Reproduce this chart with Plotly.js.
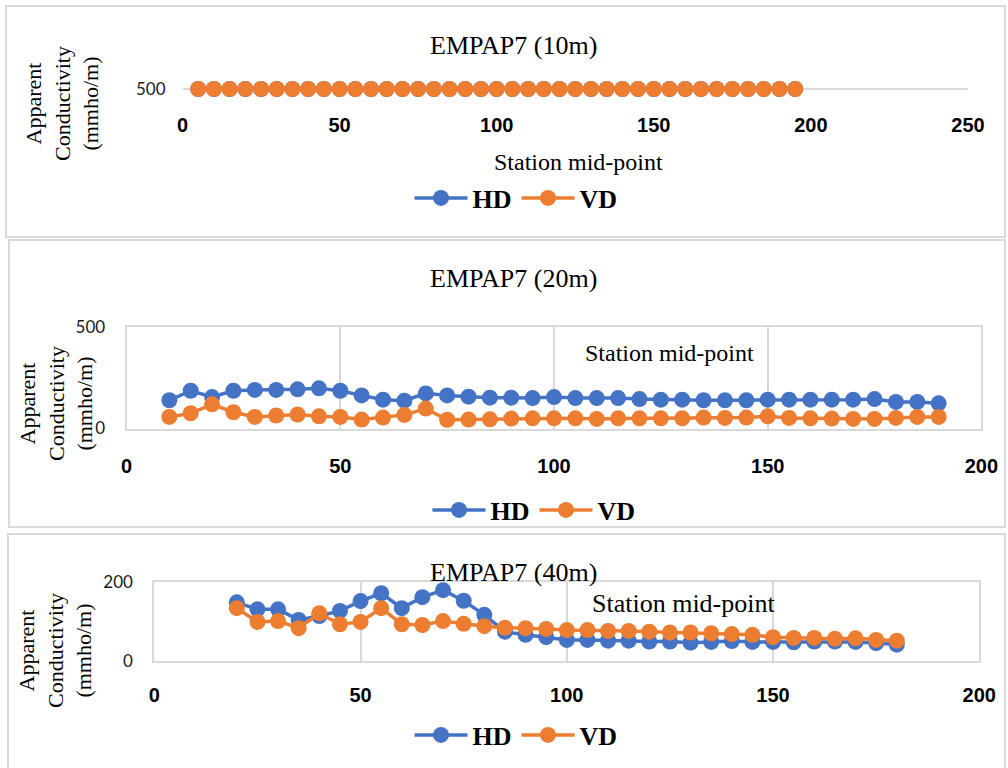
<!DOCTYPE html>
<html>
<head>
<meta charset="utf-8">
<script src="https://cdn.plot.ly/plotly-3.0.1.min.js"></script>
<style>
  html, body { margin: 0; padding: 0; background: #ffffff; }
  #chart { width: 1008px; height: 768px; }
</style>
</head>
<body>
<div id="chart"></div>
<script>
// ---- EMPAP7 apparent conductivity, three coil separations ----

// 10 m spacing
const station10 = [5, 10, 15, 20, 25, 30, 35, 40, 45, 50, 55, 60, 65, 70, 75, 80, 85, 90, 95, 100,
  105, 110, 115, 120, 125, 130, 135, 140, 145, 150, 155, 160, 165, 170, 175, 180, 185, 190, 195];
const hd10 = [500, 500, 500, 500, 500, 500, 500, 500, 500, 500, 500, 500, 500, 500, 500, 500, 500, 500, 500, 500,
  500, 500, 500, 500, 500, 500, 500, 500, 500, 500, 500, 500, 500, 500, 500, 500, 500, 500, 500];
const vd10 = [500, 500, 500, 500, 500, 500, 500, 500, 500, 500, 500, 500, 500, 500, 500, 500, 500, 500, 500, 500,
  500, 500, 500, 500, 500, 500, 500, 500, 500, 500, 500, 500, 500, 500, 500, 500, 500, 500, 500];

// 20 m spacing
const station20 = [10, 15, 20, 25, 30, 35, 40, 45, 50, 55, 60, 65, 70, 75, 80, 85, 90, 95, 100,
  105, 110, 115, 120, 125, 130, 135, 140, 145, 150, 155, 160, 165, 170, 175, 180, 185, 190];
const hd20 = [139, 186, 155, 186, 190, 190, 193, 198, 186, 163, 142, 137, 173, 163, 157, 152, 152, 150, 155,
  150, 150, 150, 145, 142, 142, 139, 139, 139, 142, 142, 142, 142, 142, 145, 131, 131, 124];
const vd20 = [57, 75, 119, 80, 57, 64, 69, 60, 57, 44, 54, 67, 98, 43, 44, 45, 49, 50, 50,
  50, 47, 50, 50, 50, 50, 54, 52, 54, 60, 52, 50, 49, 47, 47, 52, 57, 57];

// 40 m spacing
const station40 = [20, 25, 30, 35, 40, 45, 50, 55, 60, 65, 70, 75, 80, 85, 90, 95, 100,
  105, 110, 115, 120, 125, 130, 135, 140, 145, 150, 155, 160, 165, 170, 175, 180];
const hd40 = [149, 131, 131, 104, 114, 127, 152, 172, 134, 162, 180, 153, 117, 74, 66, 60, 53,
  53, 51, 51, 49, 49, 46, 48, 50, 48, 48, 47, 49, 49, 48, 45, 41];
const vd40 = [134, 99, 101, 83, 121, 93, 99, 134, 93, 91, 101, 94, 88, 84, 83, 81, 78,
  78, 76, 76, 74, 72, 72, 70, 68, 66, 60, 58, 58, 56, 57, 53, 51];

// axis ticks
const xTicks250 = [0, 50, 100, 150, 200, 250];
const xTicks200 = [0, 50, 100, 150, 200];
const yTicks10 = [500];
const yTicks20 = [0, 500];
const yTicks40 = [0, 200];

const panelTitles = ['EMPAP7 (10m)', 'EMPAP7 (20m)', 'EMPAP7 (40m)'];
const seriesNames = ['HD', 'VD'];
const xTitle = 'Station mid-point';
const yTitle = 'Apparent<br>Conductivity<br>(mmho/m)';

// ---- page geometry (pixels -> paper fractions) ----
const W = 1008, H = 768;
const px = v => v / W;
const py = v => 1 - v / H;

const BLUE = '#4472C4';
const ORANGE = '#ED7D31';
const GRID = '#D9D9D9';
const SERIF = 'Liberation Serif, Times New Roman, serif';
const SANS = 'Lato, Carlito, Calibri, sans-serif';
const SANS_BOLD = 'Liberation Sans, Arial, sans-serif';

function series(x, y, name, color, axisIdx, legendId) {
  return {
    type: 'scatter', mode: 'lines+markers',
    x: x, y: y, name: name,
    xaxis: axisIdx === 1 ? 'x' : 'x' + axisIdx,
    yaxis: axisIdx === 1 ? 'y' : 'y' + axisIdx,
    legend: legendId,
    line: { color: color, width: 3.5 },
    marker: { color: color, size: 16, symbol: 'circle' },
    cliponaxis: false,
    hoverinfo: 'x+y+name'
  };
}

const traces = [
  series(station10, hd10, seriesNames[0], BLUE, 1, 'legend'),
  series(station10, vd10, seriesNames[1], ORANGE, 1, 'legend'),
  series(station20, hd20, seriesNames[0], BLUE, 2, 'legend2'),
  series(station20, vd20, seriesNames[1], ORANGE, 2, 'legend2'),
  series(station40, hd40, seriesNames[0], BLUE, 3, 'legend3'),
  series(station40, vd40, seriesNames[1], ORANGE, 3, 'legend3')
];

const xTickFont = { family: SANS_BOLD, size: 20, color: '#000000', weight: 'bold' };
const yTickFont = { family: SANS, size: 17, color: '#1a1a1a' };

function xAxis(domain, rng, ticks, anchor, boxed, standoff) {
  return {
    domain: domain, range: rng, anchor: anchor,
    tickmode: 'array', tickvals: ticks,
    ticktext: ticks.map(t => '<b>' + t + '</b>'),
    ticks: '', showgrid: boxed, gridcolor: GRID, gridwidth: 1.5,
    zeroline: false,
    showline: boxed, mirror: boxed, linecolor: GRID, linewidth: 2,
    tickfont: xTickFont, ticklabelstandoff: standoff,
    fixedrange: true
  };
}
function yAxis(domain, rng, ticks, anchor, boxed, grid) {
  return {
    domain: domain, range: rng, anchor: anchor,
    tickmode: 'array', tickvals: ticks,
    ticks: '', showgrid: grid, gridcolor: GRID, gridwidth: 2,
    zeroline: false,
    showline: boxed, mirror: boxed, linecolor: GRID, linewidth: 2,
    tickfont: yTickFont, ticklabelstandoff: 16,
    fixedrange: true
  };
}

function legendAt(cx, cy) {
  return {
    orientation: 'h', x: px(cx), y: py(cy), xanchor: 'center', yanchor: 'middle',
    xref: 'paper', yref: 'paper',
    itemwidth: 53, bgcolor: 'rgba(0,0,0,0)', borderwidth: 0,
    font: { family: SERIF, size: 26, color: '#000000', weight: 'bold' },
    itemclick: false, itemdoubleclick: false
  };
}

function textNote(text, cx, cy, size, angle) {
  return {
    text: text, x: px(cx), y: py(cy), xref: 'paper', yref: 'paper',
    xanchor: 'center', yanchor: 'middle', showarrow: false,
    textangle: angle || 0,
    font: { family: SERIF, size: size, color: '#000000' }
  };
}

function panelBox(x0, y0, x1, y1) {
  return {
    type: 'rect', xref: 'paper', yref: 'paper',
    x0: px(x0), x1: px(x1), y0: py(y1), y1: py(y0),
    line: { color: GRID, width: 2 }, fillcolor: 'rgba(0,0,0,0)', layer: 'below'
  };
}

const layout = {
  width: W, height: H,
  margin: { l: 0, r: 0, t: 0, b: 0, pad: 0 },
  paper_bgcolor: '#ffffff', plot_bgcolor: 'rgba(0,0,0,0)',
  showlegend: true,
  hovermode: 'closest',

  // 10 m panel: a single 500 line
  xaxis: xAxis([px(182.5), px(968)], [0, 250], xTicks250, 'y', false, 17),
  yaxis: yAxis([py(93.5), py(84.5)], [499, 501], yTicks10, 'x', false, true),

  // 20 m panel
  xaxis2: xAxis([px(126.6), px(981.4)], [0, 200], xTicks200, 'y2', true, 18),
  yaxis2: yAxis([py(428.5), py(327)], [0, 500], yTicks20, 'x2', true, false),

  // 40 m panel
  xaxis3: xAxis([px(154.3), px(979.3)], [0, 200], xTicks200, 'y3', true, 15),
  yaxis3: yAxis([py(660.7), py(582.3)], [0, 200], yTicks40, 'x3', true, false),

  legend: legendAt(516, 198),
  legend2: legendAt(534, 510),
  legend3: legendAt(516, 735),

  shapes: [
    panelBox(6, 6, 1005, 237),
    panelBox(9, 240, 1005, 527),
    panelBox(8, 534, 1005, 790)
  ],

  annotations: [
    textNote(panelTitles[0], 513, 45, 26),
    textNote(panelTitles[1], 513, 278, 26),
    textNote(panelTitles[2], 513, 572, 26),

    textNote(xTitle, 578, 162, 24),
    textNote(xTitle, 669, 353, 24),
    textNote(xTitle, 684, 603, 26),

    textNote(yTitle, 62, 104, 22, -90),
    textNote(yTitle, 56, 404, 22, -90),
    textNote(yTitle, 55, 651, 22, -90)
  ]
};

Plotly.newPlot('chart', traces, layout, { displayModeBar: false, staticPlot: false, responsive: false });
</script>
</body>
</html>
